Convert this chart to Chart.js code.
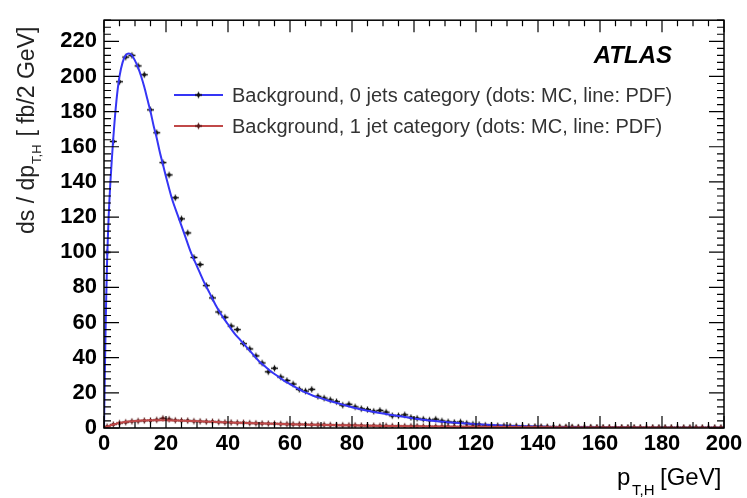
<!DOCTYPE html>
<html>
<head>
<meta charset="utf-8">
<script src="https://cdn.jsdelivr.net/npm/chart.js@4.4.0/dist/chart.umd.min.js"></script>
<style>
html,body{margin:0;padding:0;background:#fff;}
#wrap{width:747px;height:498px;position:relative;}
</style>
</head>
<body>
<div id="wrap"><canvas id="c" width="747" height="498"></canvas></div>
<script>
// bin centres (2 GeV bins)
var binCenters=[1,3,5,7,9,11,13,15,17,19,21,23,25,27,29,31,33,35,37,39,
	41,43,45,47,49,51,53,55,57,59,61,63,65,67,69,71,73,75,77,79,
	81,83,85,87,89,91,93,95,97,99,101,103,105,107,109,111,113,115,117,119,
	121,123,125,127,129,131,133,135,137,139,141,143,145,147,149,151,153,155,157,159,
	161,163,165,167,169,171,173,175,177,179,181,183,185,187,189,191,193,195,197,199];
// MC, 0 jets
var mc0=[100,163,197,211,212,206,201,181,168,151,
	144,131,119,111,97,93,81,74,66,63,
	58,56,48,45,41,37,32,34,29,27,
	25,22,21,22,18,17,16,15,13,13.5,
	12,11,10.5,9.5,10,9,7,7,7.5,6,
	5.5,5,4.5,5,4,3.5,3.2,3.4,2.7,2.2,
	2,1.6,1.5,1.3,1.2,1.0,1.1,0.9,0.8,0.8,
	0.7,0.6,0.6,0.5,0.5,0.5,0.4,0.4,0.4,0.3,
	0.3,0.3,0.3,0.3,0.2,0.2,0.2,0.2,0.2,0.2,
	0.2,0.2,0.1,0.1,0.1,0.1,0.1,0.1,0.1,0.1];
// MC, 1 jet
var mc1=[0.8,2,2.8,3.3,3.8,4,4.2,4.3,4.6,5.5,
	5,4.4,4.2,4.2,3.9,3.8,3.6,3.6,3.4,3.2,
	3.2,3,3,2.8,2.7,2.6,2.5,2.5,2.3,2.2,
	2.1,2.1,2,1.9,1.8,1.8,1.7,1.6,1.6,1.5,
	1.5,1.4,1.3,1.3,1.2,1.2,1.1,1.1,1.0,1.0,
	1.0,0.9,0.9,0.85,0.8,0.8,0.75,0.7,0.7,0.65,
	0.6,0.6,0.55,0.55,0.5,0.5,0.45,0.45,0.45,0.4,
	0.4,0.4,0.35,0.35,0.35,0.3,0.3,0.3,0.3,0.3,
	0.25,0.25,0.25,0.25,0.25,0.2,0.2,0.2,0.2,0.2,
	0.2,0.2,0.2,0.15,0.15,0.15,0.15,0.15,0.15,0.15];
// PDF curves
var pdfPt=[0,0.5,1,1.5,2,3,4,5,6,7,8,9,10,11,12,13,14,15,16,17,18,19,20,22,24,26,28,30,32,34,36,38,40,
	42,44,46,48,50,52,54,56,58,60,62,64,66,68,70,72,74,76,78,80,85,90,95,100,105,110,115,120,
	130,140,150,160,170,180,190,200];
var pdf0=[0,55,95,120,138,165,186,200,208,212,213,212,209,205,200,194,187,180,172,165,157,150,143,130,120,110,100,92,84,77,70,64,59,
	54,50,46,42,38,35,32,29.5,27,25,23,21,19.5,18,17,15.8,14.8,13.8,12.8,11.8,9.8,8.2,6.8,5.4,4.3,3.4,2.7,2.1,
	1.3,0.8,0.5,0.35,0.25,0.18,0.13,0.1];
var pdf1=[0,0.3,0.7,1.0,1.4,2.0,2.5,2.9,3.2,3.5,3.7,3.9,4.0,4.1,4.2,4.3,4.35,4.4,4.4,4.4,4.4,4.4,4.35,4.3,4.2,4.1,4.0,3.85,3.7,3.6,3.45,3.3,3.2,
	3.05,2.95,2.85,2.75,2.65,2.55,2.45,2.35,2.25,2.15,2.05,2.0,1.9,1.85,1.8,1.7,1.65,1.6,1.55,1.5,1.35,1.2,1.1,1.0,0.9,0.8,0.72,0.65,
	0.52,0.42,0.35,0.3,0.25,0.2,0.17,0.15];
var legendLabels=["Background, 0 jets category (dots: MC, line: PDF)","Background, 1 jet category (dots: MC, line: PDF)"];
var xTickStep=20, yTickStep=20;

var FONT='"Liberation Sans", Arial, sans-serif';
var blue='#3535f5', red='#c04848';

function pts(xs,ys){ var o=[]; for(var i=0;i<xs.length;i++){ o.push({x:xs[i],y:ys[i]}); } return o; }

// marker: dot with small error bars
function makeMarker(col){
	var m=document.createElement('canvas'); m.width=9; m.height=9;
	var g=m.getContext('2d');
	g.strokeStyle=col; g.lineWidth=1.3;
	g.beginPath(); g.moveTo(1,4.5); g.lineTo(8,4.5); g.moveTo(4.5,1.5); g.lineTo(4.5,7.5); g.stroke();
	g.fillStyle=col; g.beginPath(); g.arc(4.5,4.5,1.8,0,Math.PI*2); g.fill();
	return m;
}
var mark0=makeMarker('#111'), mark1=makeMarker('#5a1a1a');

var frame={
	id:'frame',
	afterDraw:function(chart){
		var ctx=chart.ctx, a=chart.chartArea, xs=chart.scales.x, ys=chart.scales.y;
		ctx.save();
		ctx.strokeStyle='#000'; ctx.lineWidth=1.5;
		ctx.strokeRect(a.left,a.top,a.right-a.left,a.bottom-a.top);
		ctx.lineWidth=1.2; ctx.beginPath();
		var v,p,L;
		for(v=0;v<=200;v+=5){
			p=xs.getPixelForValue(v); L=(v%20==0)?12:6;
			ctx.moveTo(p,a.bottom); ctx.lineTo(p,a.bottom-L);
			ctx.moveTo(p,a.top); ctx.lineTo(p,a.top+L);
		}
		for(v=0;v<=232;v+=4){
			p=ys.getPixelForValue(v); L=(v%20==0)?15:7;
			ctx.moveTo(a.left,p); ctx.lineTo(a.left+L,p);
			ctx.moveTo(a.right,p); ctx.lineTo(a.right-L,p);
		}
		ctx.stroke();
		// ATLAS label
		ctx.fillStyle='#000';
		ctx.font='italic bold 24px '+FONT; ctx.textAlign='right'; ctx.textBaseline='middle';
		ctx.fillText('ATLAS',672,56);
		// legend
		var ly=[95,126], cols=[blue,red], mk=[mark0,mark1];
		ctx.font='20px '+FONT; ctx.textAlign='left';
		for(var i=0;i<2;i++){
			ctx.strokeStyle=cols[i]; ctx.lineWidth=2;
			ctx.beginPath(); ctx.moveTo(174,ly[i]); ctx.lineTo(223,ly[i]); ctx.stroke();
			ctx.drawImage(mk[i],198.5-4.5,ly[i]-4.5);
			ctx.fillStyle='#333';
			ctx.fillText(legendLabels[i],232,ly[i]+1);
		}
		// x title
		ctx.fillStyle='#000'; ctx.textBaseline='alphabetic';
		ctx.font='24px '+FONT;
		ctx.fillText('p',617,485);
		ctx.font='15px '+FONT; ctx.fillText('T,H',632,495);
		ctx.font='24px '+FONT; ctx.fillText('[GeV]',660,485);
		// y title
		ctx.translate(34,234); ctx.rotate(-Math.PI/2);
		ctx.fillStyle='#222';
		ctx.font='23px '+FONT; ctx.fillText('ds / dp',0,0);
		var w=ctx.measureText('ds / dp').width;
		ctx.font='13px '+FONT; ctx.fillText('T,H',w+1,7);
		ctx.font='23px '+FONT; ctx.fillText(' [ fb/2 GeV]',w+22,0);
		ctx.restore();
	}
};

new Chart(document.getElementById('c'),{
	type:'scatter',
	data:{
		datasets:[
			{label:'pdf1',data:pts(pdfPt,pdf1),showLine:true,borderColor:red,borderWidth:2,pointRadius:0,tension:0.3},
			{label:'mc1',data:pts(binCenters,mc1),pointStyle:mark1,pointRadius:4,showLine:false},
			{label:'pdf0',data:pts(pdfPt,pdf0),showLine:true,borderColor:blue,borderWidth:2,pointRadius:0,tension:0.3},
			{label:'mc0',data:pts(binCenters,mc0),pointStyle:mark0,pointRadius:4,showLine:false}
		]
	},
	options:{
		responsive:false,animation:false,
		layout:{padding:{left:0,top:11,right:23,bottom:0}},
		plugins:{legend:{display:false},tooltip:{enabled:false}},
		scales:{
			x:{type:'linear',min:0,max:200,
				grid:{display:false,drawTicks:false},border:{display:false},
				ticks:{stepSize:xTickStep,color:'#000',font:{family:FONT,size:22,weight:'bold'},padding:3,maxRotation:0,autoSkip:false,includeBounds:false},
				afterFit:function(s){s.height=70;}},
			y:{type:'linear',min:0,max:232,
				grid:{display:false,drawTicks:false},border:{display:false},
				ticks:{stepSize:yTickStep,color:'#000',font:{family:FONT,size:22,weight:'bold'},padding:7,includeBounds:false,autoSkip:false},
				afterFit:function(s){s.width=104;}}
		}
	},
	plugins:[frame]
});
</script>
</body>
</html>
